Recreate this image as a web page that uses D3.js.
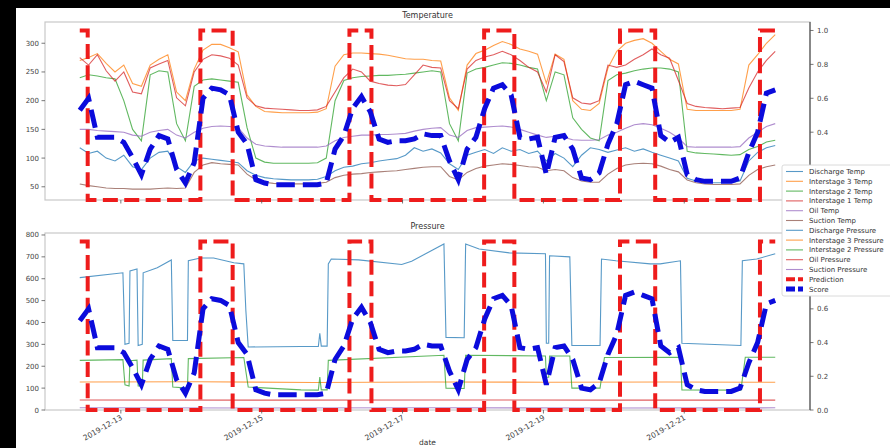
<!DOCTYPE html>
<html><head><meta charset="utf-8">
<script src="https://cdn.jsdelivr.net/npm/d3@7"></script>
<style>body{margin:0;background:#000;} svg{display:block;} text{font-family:"DejaVu Sans",sans-serif;}</style>
</head><body><svg id="c" width="890" height="448"></svg>
<script>
// ---------------- DATA ----------------
const startTime = new Date(2019, 11, 12, 10, 0, 0);   // first sample
const stepHours = 3;                                   // sampling step of the grid series
const xTickLabels = ["2019-12-13", "2019-12-15", "2019-12-17", "2019-12-19", "2019-12-21"];
const tempTicks = [50, 100, 150, 200, 250, 300];
const pressureTicks = [0, 100, 200, 300, 400, 500, 600, 700, 800];
const scoreTicks = [0, 0.2, 0.4, 0.6, 0.8, 1.0];

const tempNames = ["Discharge Temp", "Interstage 3 Temp", "Interstage 2 Temp", "Interstage 1 Temp", "Oil Temp", "Suction Temp"];
const pressureNames = ["Discharge Pressure", "Interstage 3 Pressure", "Interstage 2 Pressure", "Oil Pressure", "Suction Pressure"];

// temperatures on the 3-hour grid
const dischargeTemp = [118,108,112,100,95,105,85,80,100,110,112,85,75,95,100,98,96,94,92,78,70,66,64,63,62,62,62,63,68,78,84,86,90,92,95,97,99,105,118,112,116,109,90,80,105,110,115,108,118,112,115,108,112,95,108,100,85,105,118,115,110,114,118,112,116,110,105,100,95,65,60,58,57,57,57,60,95,110,118,122];
const interstage3Temp = [270,275,282,265,250,262,230,225,262,272,280,215,200,255,288,298,298,292,285,210,190,181,180,179,179,179,179,180,186,260,280,283,283,282,281,279,276,273,272,272,270,269,205,183,262,282,288,296,303,298,290,286,281,230,281,272,200,185,183,195,257,286,300,305,308,300,286,272,264,185,183,183,183,183,183,185,262,280,300,315];
const interstage2Temp = [240,245,243,240,238,200,150,130,245,252,250,160,130,225,236,238,236,234,232,153,100,93,91,91,91,91,91,92,100,200,235,240,242,243,244,244,245,246,248,250,252,250,160,130,248,255,258,262,266,265,262,258,255,200,250,245,170,150,135,130,235,245,248,252,255,257,257,255,250,112,109,108,107,106,105,106,115,120,128,131];
const interstage1Temp = [275,262,280,252,234,250,215,212,257,264,270,205,191,250,272,280,278,274,262,205,191,187,186,185,184,183,183,184,190,215,240,255,250,234,230,227,226,228,245,262,258,257,200,186,255,270,276,280,286,280,270,258,250,215,280,268,205,196,194,200,262,258,262,272,280,290,280,274,235,195,190,188,187,186,187,188,222,250,270,286];
const oilTemp = [150,150,148,147,146,145,140,138,145,148,150,140,135,145,152,155,156,155,153,135,124,121,120,119,119,119,119,119,121,130,136,138,140,140,141,141,142,143,147,150,152,153,140,136,148,153,154,155,156,154,150,145,140,136,138,136,132,131,131,132,140,145,152,158,160,158,152,145,135,120,119,119,119,119,119,120,135,145,155,160];
const suctionTemp = [55,52,50,48,47,47,46,46,46,47,48,47,48,75,88,92,90,89,88,72,62,58,56,55,55,55,55,56,58,66,70,72,73,75,76,77,78,80,82,84,85,85,68,62,75,82,86,88,90,89,87,85,84,78,80,78,66,60,58,58,72,82,88,90,91,90,86,80,76,62,57,55,54,54,54,55,70,80,85,88];

// pressures as [hours since start, value] break points
const dischargePressure = [[0,605],[14.7,627],[15.4,300],[16.8,305],[17.1,636],[19.5,645],[19.9,295],[21.3,300],[21.6,627],[26.4,650],[31.2,686],[31.7,318],[36.7,318],[37,682],[41.1,695],[45.6,695],[52.5,673],[55.9,668],[56.6,455],[57.4,288],[75.4,290],[81.3,290],[81.8,350],[82.3,292],[84.3,292],[84.7,668],[85.7,690],[95,686],[109.7,665],[113.1,680],[124.1,759],[124.8,332],[131,330],[131.5,759],[136.1,736],[146.4,718],[158.7,714],[159,305],[159.8,305],[160.1,705],[167,700],[167.7,295],[177.3,295],[177.8,690],[182.7,682],[194.4,668],[197.8,668],[204.7,682],[205.2,305],[225.3,295],[225.8,682],[230.7,690],[237,714]];
const interstage3Pressure = [[0,128],[40,129],[80,126],[120,128],[160,127],[200,128],[237,127]];
const interstage2Pressure = [[0,227],[14.7,230],[15.4,115],[16.8,110],[17.1,225],[19.5,228],[19.9,110],[21.3,110],[21.6,228],[31.2,235],[31.7,105],[36.7,100],[37,235],[55.9,240],[57.4,105],[75.4,92],[81.3,91],[81.8,150],[82.3,92],[84.3,92],[84.7,227],[124.1,250],[124.8,100],[131,98],[131.5,250],[158.7,247],[159,150],[159.8,150],[160.1,247],[167,247],[167.7,100],[177.3,100],[178.8,240],[204.7,241],[205.2,92],[225.3,91],[226.8,241],[237,241]];
const oilPressure = [[0,46],[60,45],[120,46],[180,45],[237,45]];
const suctionPressure = [[0,10],[60,9],[120,10],[180,9],[237,10]];

// anomaly model output (right axes)
const predictionOn = [[0,2.7],[41.1,52.1],[91.9,99.4],[137.8,148.1],[184.1,196.1],[231.8,237]];
const predictionEnd = 237;
const score = [0.53,0.6,0.37,0.37,0.37,0.34,0.25,0.15,0.3,0.38,0.36,0.18,0.1,0.22,0.6,0.66,0.65,0.62,0.4,0.33,0.12,0.1,0.09,0.09,0.09,0.09,0.09,0.09,0.1,0.3,0.38,0.54,0.61,0.52,0.36,0.34,0.35,0.35,0.36,0.39,0.38,0.38,0.23,0.12,0.3,0.37,0.54,0.66,0.68,0.62,0.37,0.36,0.37,0.15,0.37,0.38,0.3,0.13,0.12,0.16,0.33,0.45,0.68,0.7,0.68,0.66,0.38,0.34,0.37,0.15,0.12,0.11,0.11,0.11,0.11,0.13,0.28,0.4,0.63,0.65];

// ---------------- DRAW ----------------
const tab = ["#1f77b4","#ff7f0e","#2ca02c","#d62728","#9467bd","#8c564b"];
const predColor = "#ee1c1c", scoreColor = "#0b0bdc";
const hourMs = 3600e3;
const tAt = h => new Date(startTime.getTime() + h * hourMs);

const svg = d3.select("#c");
svg.append("rect").attr("x",16).attr("y",8).attr("width",874).attr("height",440).attr("fill","#fff");

const L = 45, R = 810;
const legTop = 165, legBottom = 296;
const x = d3.scaleTime().domain([tAt(-11.85), tAt(248.85)]).range([L, R]);
const panels = [
  {top:22, bottom:200, title:"Temperature", domain:[27,337], ticks:tempTicks,
   series:[dischargeTemp,interstage3Temp,interstage2Temp,interstage1Temp,oilTemp,suctionTemp].map((d,i)=>({pts:d.map((v,j)=>[j*stepHours,v]), color:tab[i]}))},
  {top:233, bottom:410, title:"Pressure", domain:[0,809], ticks:pressureTicks,
   series:[dischargePressure,interstage3Pressure,interstage2Pressure,oilPressure,suctionPressure].map((d,i)=>({pts:d, color:tab[i]}))}
];
const predPts = [];
predictionOn.forEach(([a,b])=>{
  if (a > 0) { predPts.push([a,0]); predPts.push([a,1]); } else predPts.push([0,1]);
  predPts.push([b,1]);
  if (b < predictionEnd) predPts.push([b,0]);
});
if (predPts[predPts.length-1][0] < predictionEnd) predPts.push([predictionEnd,0]);

panels.forEach((p,pi)=>{
  const y = d3.scaleLinear().domain(p.domain).range([p.bottom,p.top]);
  const y2 = d3.scaleLinear().domain([0,1.05]).range([p.bottom,p.top]);
  const g = svg.append("g");
  const cid = "clip"+pi;
  svg.append("clipPath").attr("id",cid).append("rect").attr("x",L).attr("y",p.top-3).attr("width",R-L).attr("height",p.bottom-p.top+6);
  g.append("rect").attr("x",L).attr("y",p.top).attr("width",R-L).attr("height",p.bottom-p.top)
    .attr("fill","none").attr("stroke","#c8c8c8").attr("stroke-width",1.2);
  g.append("text").attr("x",(L+R)/2).attr("y",p.top-4).attr("text-anchor","middle")
    .attr("font-size",8).attr("fill","#333").text(p.title);
  // left axis
  p.ticks.forEach(t=>{
    g.append("line").attr("x1",L-3.5).attr("x2",L).attr("y1",y(t)).attr("y2",y(t)).attr("stroke","#555").attr("stroke-width",0.8);
    g.append("text").attr("x",L-6).attr("y",y(t)+2.5).attr("text-anchor","end").attr("font-size",7).attr("fill","#444").text(t);
  });
  // right axis
  g.append("line").attr("x1",R).attr("x2",R).attr("y1",p.top).attr("y2",p.bottom).attr("stroke","#333").attr("stroke-width",1);
  scoreTicks.forEach(t=>{
    const ty = y2(t);
    g.append("line").attr("x1",R).attr("x2",R+3.5).attr("y1",ty).attr("y2",ty).attr("stroke","#555").attr("stroke-width",0.8);
    if (ty + 4 >= legTop && ty - 4 <= legBottom) return;   // hidden behind the legend
    g.append("text").attr("x",R+7).attr("y",ty+2.5).attr("font-size",7).attr("fill","#444").text(d3.format(".1f")(t));
  });
  // data lines
  const lg = g.append("g").attr("clip-path",`url(#${cid})`);
  const line = d3.line().x(d=>x(tAt(d[0]))).y(d=>y(d[1]));
  p.series.forEach(s=>{
    lg.append("path").attr("d",line(s.pts)).attr("fill","none").attr("stroke",s.color)
      .attr("stroke-width",1.1).attr("stroke-opacity",0.75);
  });
  const line2 = d3.line().x(d=>x(tAt(d[0]))).y(d=>y2(d[1]));
  lg.append("path").attr("d",line2(predPts)).attr("fill","none").attr("stroke",predColor)
    .attr("stroke-width",4).attr("stroke-dasharray","15,6.4");
  lg.append("path").attr("d",line2(score.map((v,j)=>[j*stepHours,v]))).attr("fill","none").attr("stroke",scoreColor)
    .attr("stroke-width",5).attr("stroke-dasharray","18.5,8");
  const tickDates = xTickLabels.map(s=>d3.timeParse("%Y-%m-%d")(s));
  tickDates.forEach((d,k)=>{
    g.append("line").attr("x1",x(d)).attr("x2",x(d)).attr("y1",p.bottom).attr("y2",p.bottom+3.5).attr("stroke","#555").attr("stroke-width",0.8);
    if (pi===1) {
      g.append("text").attr("transform",`translate(${x(d)+2},${p.bottom+9}) rotate(-30)`)
        .attr("text-anchor","end").attr("font-size",7.5).attr("fill","#444").text(xTickLabels[k]);
    }
  });
});
svg.append("text").attr("x",(L+R)/2).attr("y",445).attr("text-anchor","middle").attr("font-size",7.5).attr("fill","#333").text("date");

// legend
const legItems = tempNames.map((n,i)=>({n, c:tab[i], w:1.1, dash:null}))
  .concat(pressureNames.map((n,i)=>({n, c:tab[i], w:1.1, dash:null})))
  .concat([{n:"Prediction", c:predColor, w:4, dash:"15,6.4"},{n:"Score", c:scoreColor, w:5, dash:"18.5,8"}]);
const lgG = svg.append("g");
lgG.append("rect").attr("x",782).attr("y",legTop).attr("width",120).attr("height",legBottom-legTop).attr("rx",2)
  .attr("fill","#fff").attr("stroke","#d0d0d0").attr("stroke-width",0.8);
legItems.forEach((it,i)=>{
  const yy = 171.5 + i*9.8;
  lgG.append("line").attr("x1",786).attr("x2",803).attr("y1",yy).attr("y2",yy).attr("stroke",it.c)
    .attr("stroke-width",it.w).attr("stroke-opacity",it.dash?1:0.75).attr("stroke-dasharray",it.dash ? "9,3" : null);
  lgG.append("text").attr("x",809).attr("y",yy+2.5).attr("font-size",7).attr("fill","#333").text(it.n);
});
</script></body></html>
